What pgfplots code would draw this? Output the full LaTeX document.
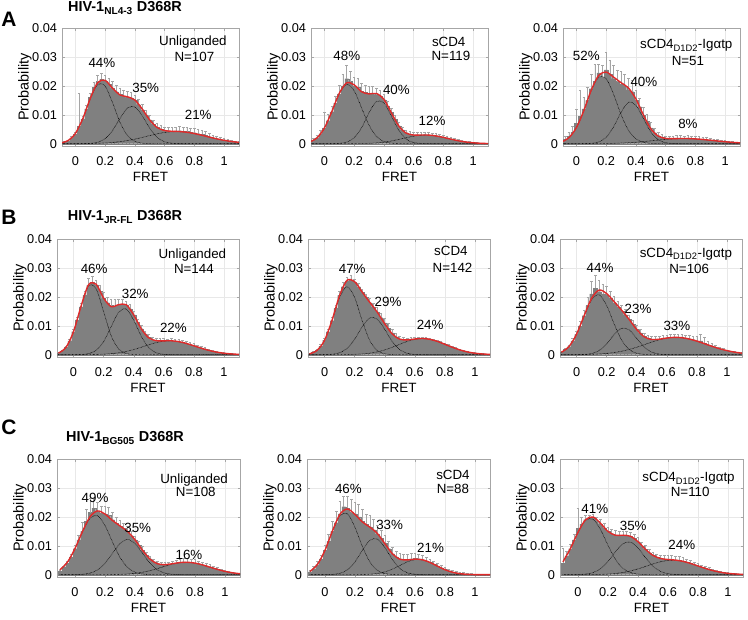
\documentclass[border=0pt]{standalone}
\usepackage{pgfplots}
\pgfplotsset{compat=1.18}
\usepackage{pgfplotstable}
\usepackage{fontspec}
\setmainfont{Liberation Sans}

\definecolor{histfill}{RGB}{128,128,128}
\definecolor{errc}{RGB}{165,165,165}
\definecolor{fitred}{RGB}{224,42,42}

% ---------------- Row A : NL4-3 ----------------
\pgfplotstableread{
x h e
-0.100 0.0002 0.0002
-0.075 0.0005 0.0003
-0.050 0.0010 0.0003
-0.025 0.0020 0.0004
0.000 0.0033 0.0005
0.025 0.0060 0.0115
0.050 0.0085 0.0010
0.075 0.0120 0.0012
0.100 0.0160 0.0015
0.125 0.0195 0.0018
0.150 0.0215 0.0020
0.175 0.0222 0.0022
0.200 0.0218 0.0020
0.225 0.0205 0.0020
0.250 0.0193 0.0022
0.275 0.0180 0.0022
0.300 0.0170 0.0020
0.325 0.0165 0.0020
0.350 0.0160 0.0022
0.375 0.0158 0.0020
0.400 0.0150 0.0018
0.425 0.0135 0.0020
0.450 0.0118 0.0018
0.475 0.0100 0.0016
0.500 0.0082 0.0015
0.525 0.0068 0.0014
0.550 0.0056 0.0013
0.575 0.0050 0.0012
0.600 0.0046 0.0012
0.625 0.0044 0.0012
0.650 0.0043 0.0014
0.675 0.0044 0.0014
0.700 0.0045 0.0015
0.725 0.0042 0.0014
0.750 0.0042 0.0015
0.775 0.0040 0.0015
0.800 0.0038 0.0016
0.825 0.0035 0.0015
0.850 0.0033 0.0014
0.875 0.0030 0.0014
0.900 0.0024 0.0012
0.925 0.0020 0.0010
0.950 0.0017 0.0008
0.975 0.0014 0.0007
1.000 0.0011 0.0006
1.025 0.0009 0.0005
1.050 0.0007 0.0004
1.075 0.0005 0.0003
1.100 0.0004 0.0003
}\hAi
\pgfplotstableread{
x g1 g2 g3 f
-0.10 0.00023 0.00000 0.00000 0.00023
-0.05 0.00106 0.00000 0.00001 0.00107
0.00 0.00353 0.00000 0.00001 0.00354
0.05 0.00863 0.00002 0.00003 0.00868
0.10 0.01550 0.00010 0.00006 0.01566
0.15 0.02050 0.00049 0.00013 0.02112
0.20 0.01990 0.00176 0.00023 0.02189
0.25 0.01415 0.00458 0.00042 0.01915
0.30 0.00740 0.00876 0.00069 0.01685
0.35 0.00284 0.01230 0.00108 0.01622
0.40 0.00080 0.01270 0.00158 0.01508
0.45 0.00017 0.00960 0.00217 0.01194
0.50 0.00003 0.00534 0.00280 0.00817
0.55 0.00000 0.00218 0.00340 0.00558
0.60 0.00000 0.00066 0.00388 0.00454
0.65 0.00000 0.00014 0.00415 0.00429
0.70 0.00000 0.00002 0.00418 0.00420
0.75 0.00000 0.00000 0.00395 0.00395
0.80 0.00000 0.00000 0.00351 0.00351
0.85 0.00000 0.00000 0.00293 0.00293
0.90 0.00000 0.00000 0.00229 0.00229
0.95 0.00000 0.00000 0.00169 0.00169
1.00 0.00000 0.00000 0.00117 0.00117
1.05 0.00000 0.00000 0.00076 0.00076
1.10 0.00000 0.00000 0.00046 0.00046
}\gAi

\pgfplotstableread{
x h e
-0.100 0.0006 0.0004
-0.075 0.0012 0.0005
-0.050 0.0020 0.0008
-0.025 0.0035 0.0010
0.000 0.0055 0.0055
0.025 0.0080 0.0020
0.050 0.0110 0.0020
0.075 0.0140 0.0025
0.100 0.0172 0.0030
0.125 0.0200 0.0040
0.150 0.0225 0.0045
0.175 0.0215 0.0035
0.200 0.0200 0.0030
0.225 0.0195 0.0030
0.250 0.0182 0.0028
0.275 0.0178 0.0025
0.300 0.0172 0.0025
0.325 0.0175 0.0022
0.350 0.0170 0.0022
0.375 0.0165 0.0020
0.400 0.0152 0.0020
0.425 0.0130 0.0018
0.450 0.0108 0.0015
0.475 0.0085 0.0014
0.500 0.0062 0.0012
0.525 0.0048 0.0010
0.550 0.0038 0.0010
0.575 0.0033 0.0009
0.600 0.0030 0.0009
0.625 0.0031 0.0010
0.650 0.0030 0.0010
0.675 0.0031 0.0010
0.700 0.0030 0.0009
0.725 0.0028 0.0009
0.750 0.0027 0.0009
0.775 0.0024 0.0008
0.800 0.0022 0.0008
0.825 0.0019 0.0007
0.850 0.0016 0.0007
0.875 0.0013 0.0006
0.900 0.0010 0.0005
0.925 0.0008 0.0004
0.950 0.0006 0.0003
0.975 0.0004 0.0003
1.000 0.0003 0.0002
1.025 0.0002 0.0002
1.050 0.0002 0.0001
1.075 0.0001 0.0001
1.100 0.0001 0.0001
}\hAii
\pgfplotstableread{
x g1 g2 g3 f
-0.10 0.00056 0.00000 0.00000 0.00056
-0.05 0.00199 0.00000 0.00000 0.00199
0.00 0.00540 0.00000 0.00000 0.00540
0.05 0.01110 0.00001 0.00000 0.01111
0.10 0.01730 0.00010 0.00000 0.01740
0.15 0.02050 0.00053 0.00001 0.02104
0.20 0.01830 0.00203 0.00002 0.02035
0.25 0.01240 0.00550 0.00005 0.01795
0.30 0.00640 0.01070 0.00012 0.01722
0.35 0.00250 0.01460 0.00027 0.01737
0.40 0.00074 0.01410 0.00052 0.01536
0.45 0.00016 0.00960 0.00093 0.01069
0.50 0.00003 0.00465 0.00146 0.00614
0.55 0.00000 0.00159 0.00206 0.00365
0.60 0.00000 0.00039 0.00260 0.00299
0.65 0.00000 0.00007 0.00294 0.00301
0.70 0.00000 0.00001 0.00297 0.00298
0.75 0.00000 0.00000 0.00269 0.00269
0.80 0.00000 0.00000 0.00218 0.00218
0.85 0.00000 0.00000 0.00158 0.00158
0.90 0.00000 0.00000 0.00102 0.00102
0.95 0.00000 0.00000 0.00059 0.00059
1.00 0.00000 0.00000 0.00031 0.00031
1.05 0.00000 0.00000 0.00014 0.00014
1.10 0.00000 0.00000 0.00006 0.00006
}\gAii

\pgfplotstableread{
x h e
-0.100 0.0008 0.0008
-0.075 0.0015 0.0010
-0.050 0.0025 0.0015
-0.025 0.0040 0.0020
0.000 0.0070 0.0050
0.025 0.0095 0.0090
0.050 0.0120 0.0040
0.075 0.0150 0.0045
0.100 0.0190 0.0050
0.125 0.0215 0.0060
0.150 0.0245 0.0030
0.175 0.0230 0.0040
0.200 0.0255 0.0060
0.225 0.0240 0.0050
0.250 0.0225 0.0045
0.275 0.0215 0.0040
0.300 0.0205 0.0045
0.325 0.0200 0.0040
0.350 0.0185 0.0040
0.375 0.0180 0.0040
0.400 0.0150 0.0035
0.425 0.0128 0.0030
0.450 0.0100 0.0025
0.475 0.0078 0.0022
0.500 0.0055 0.0018
0.525 0.0038 0.0015
0.550 0.0028 0.0012
0.575 0.0022 0.0010
0.600 0.0018 0.0008
0.625 0.0017 0.0009
0.650 0.0017 0.0010
0.675 0.0018 0.0010
0.700 0.0019 0.0010
0.725 0.0017 0.0009
0.750 0.0018 0.0010
0.775 0.0017 0.0010
0.800 0.0016 0.0009
0.825 0.0015 0.0010
0.850 0.0014 0.0009
0.875 0.0013 0.0008
0.900 0.0012 0.0007
0.925 0.0010 0.0006
0.950 0.0009 0.0005
0.975 0.0008 0.0004
1.000 0.0007 0.0004
1.025 0.0005 0.0003
1.050 0.0004 0.0003
1.075 0.0003 0.0002
1.100 0.0003 0.0002
}\hAiii
\pgfplotstableread{
x g1 g2 g3 f
-0.10 0.00061 0.00000 0.00000 0.00061
-0.05 0.00209 0.00000 0.00000 0.00209
0.00 0.00555 0.00000 0.00000 0.00555
0.05 0.01140 0.00002 0.00001 0.01143
0.10 0.01840 0.00011 0.00002 0.01853
0.15 0.02300 0.00059 0.00003 0.02362
0.20 0.02250 0.00220 0.00006 0.02476
0.25 0.01710 0.00580 0.00011 0.02301
0.30 0.01010 0.01080 0.00020 0.02110
0.35 0.00465 0.01430 0.00033 0.01928
0.40 0.00167 0.01330 0.00050 0.01547
0.45 0.00047 0.00880 0.00072 0.00999
0.50 0.00010 0.00410 0.00098 0.00518
0.55 0.00002 0.00137 0.00125 0.00264
0.60 0.00000 0.00032 0.00150 0.00182
0.65 0.00000 0.00005 0.00169 0.00174
0.70 0.00000 0.00001 0.00179 0.00180
0.75 0.00000 0.00000 0.00178 0.00178
0.80 0.00000 0.00000 0.00166 0.00166
0.85 0.00000 0.00000 0.00146 0.00146
0.90 0.00000 0.00000 0.00120 0.00120
0.95 0.00000 0.00000 0.00093 0.00093
1.00 0.00000 0.00000 0.00068 0.00068
1.05 0.00000 0.00000 0.00046 0.00046
1.10 0.00000 0.00000 0.00030 0.00030
}\gAiii

% ---------------- Row B : JR-FL ----------------
\pgfplotstableread{
x h e
-0.100 0.0005 0.0002
-0.075 0.0012 0.0003
-0.050 0.0025 0.0004
-0.025 0.0048 0.0006
0.000 0.0080 0.0008
0.025 0.0120 0.0010
0.050 0.0165 0.0012
0.075 0.0205 0.0015
0.100 0.0240 0.0025
0.125 0.0250 0.0020
0.150 0.0240 0.0018
0.175 0.0220 0.0020
0.200 0.0195 0.0022
0.225 0.0180 0.0020
0.250 0.0170 0.0022
0.275 0.0168 0.0022
0.300 0.0172 0.0018
0.325 0.0175 0.0018
0.350 0.0170 0.0015
0.375 0.0158 0.0015
0.400 0.0138 0.0013
0.425 0.0112 0.0012
0.450 0.0090 0.0012
0.475 0.0072 0.0010
0.500 0.0060 0.0010
0.525 0.0052 0.0009
0.550 0.0049 0.0009
0.575 0.0048 0.0008
0.600 0.0048 0.0008
0.625 0.0047 0.0008
0.650 0.0048 0.0008
0.675 0.0046 0.0008
0.700 0.0044 0.0008
0.725 0.0042 0.0007
0.750 0.0038 0.0007
0.775 0.0035 0.0007
0.800 0.0031 0.0007
0.825 0.0027 0.0006
0.850 0.0023 0.0006
0.875 0.0019 0.0005
0.900 0.0015 0.0004
0.925 0.0012 0.0004
0.950 0.0009 0.0003
0.975 0.0007 0.0003
1.000 0.0005 0.0002
1.025 0.0004 0.0002
1.050 0.0003 0.0001
1.075 0.0002 0.0001
1.100 0.0001 0.0001
}\hBi
\pgfplotstableread{
x g1 g2 g3 f
-0.10 0.00056 0.00000 0.00000 0.00056
-0.05 0.00254 0.00000 0.00000 0.00254
0.00 0.00797 0.00001 0.00000 0.00798
0.05 0.01670 0.00006 0.00001 0.01677
0.10 0.02380 0.00035 0.00003 0.02418
0.15 0.02280 0.00150 0.00008 0.02438
0.20 0.01486 0.00453 0.00017 0.01956
0.25 0.00655 0.00970 0.00035 0.01660
0.30 0.00195 0.01469 0.00065 0.01729
0.35 0.00040 0.01578 0.00112 0.01730
0.40 0.00005 0.01195 0.00177 0.01377
0.45 0.00000 0.00640 0.00257 0.00897
0.50 0.00000 0.00243 0.00342 0.00585
0.55 0.00000 0.00066 0.00417 0.00483
0.60 0.00000 0.00012 0.00467 0.00479
0.65 0.00000 0.00002 0.00479 0.00481
0.70 0.00000 0.00000 0.00451 0.00451
0.75 0.00000 0.00000 0.00389 0.00389
0.80 0.00000 0.00000 0.00308 0.00308
0.85 0.00000 0.00000 0.00224 0.00224
0.90 0.00000 0.00000 0.00149 0.00149
0.95 0.00000 0.00000 0.00091 0.00091
1.00 0.00000 0.00000 0.00051 0.00051
1.05 0.00000 0.00000 0.00026 0.00026
1.10 0.00000 0.00000 0.00012 0.00012
}\gBi

\pgfplotstableread{
x h e
-0.100 0.0003 0.0002
-0.075 0.0008 0.0003
-0.050 0.0015 0.0004
-0.025 0.0030 0.0005
0.000 0.0050 0.0006
0.025 0.0080 0.0008
0.050 0.0118 0.0010
0.075 0.0160 0.0012
0.100 0.0205 0.0014
0.125 0.0235 0.0015
0.150 0.0255 0.0012
0.175 0.0258 0.0015
0.200 0.0250 0.0012
0.225 0.0235 0.0012
0.250 0.0215 0.0012
0.275 0.0198 0.0012
0.300 0.0180 0.0014
0.325 0.0165 0.0014
0.350 0.0148 0.0015
0.375 0.0128 0.0015
0.400 0.0110 0.0015
0.425 0.0092 0.0015
0.450 0.0075 0.0014
0.475 0.0062 0.0012
0.500 0.0055 0.0010
0.525 0.0052 0.0008
0.550 0.0051 0.0007
0.575 0.0053 0.0007
0.600 0.0054 0.0007
0.625 0.0055 0.0006
0.650 0.0055 0.0006
0.675 0.0054 0.0006
0.700 0.0052 0.0006
0.725 0.0049 0.0006
0.750 0.0046 0.0005
0.775 0.0041 0.0005
0.800 0.0036 0.0005
0.825 0.0031 0.0005
0.850 0.0026 0.0004
0.875 0.0021 0.0004
0.900 0.0016 0.0003
0.925 0.0013 0.0003
0.950 0.0010 0.0003
0.975 0.0007 0.0002
1.000 0.0005 0.0002
1.025 0.0004 0.0002
1.050 0.0003 0.0001
1.075 0.0002 0.0001
1.100 0.0001 0.0001
}\hBii
\pgfplotstableread{
x g1 g2 g3 f
-0.10 0.00030 0.00000 0.00000 0.00030
-0.05 0.00147 0.00000 0.00000 0.00147
0.00 0.00495 0.00002 0.00000 0.00497
0.05 0.01180 0.00014 0.00000 0.01194
0.10 0.01980 0.00066 0.00001 0.02047
0.15 0.02350 0.00218 0.00004 0.02572
0.20 0.01980 0.00534 0.00011 0.02525
0.25 0.01180 0.00960 0.00025 0.02165
0.30 0.00495 0.01270 0.00051 0.01816
0.35 0.00147 0.01230 0.00096 0.01473
0.40 0.00030 0.00876 0.00165 0.01071
0.45 0.00004 0.00458 0.00256 0.00718
0.50 0.00000 0.00176 0.00361 0.00537
0.55 0.00000 0.00049 0.00461 0.00510
0.60 0.00000 0.00010 0.00533 0.00543
0.65 0.00000 0.00001 0.00560 0.00561
0.70 0.00000 0.00000 0.00533 0.00533
0.75 0.00000 0.00000 0.00461 0.00461
0.80 0.00000 0.00000 0.00361 0.00361
0.85 0.00000 0.00000 0.00256 0.00256
0.90 0.00000 0.00000 0.00165 0.00165
0.95 0.00000 0.00000 0.00096 0.00096
1.00 0.00000 0.00000 0.00051 0.00051
1.05 0.00000 0.00000 0.00025 0.00025
1.10 0.00000 0.00000 0.00011 0.00011
}\gBii

\pgfplotstableread{
x h e
-0.100 0.0008 0.0003
-0.075 0.0018 0.0004
-0.050 0.0028 0.0006
-0.025 0.0048 0.0008
0.000 0.0070 0.0010
0.025 0.0100 0.0015
0.050 0.0135 0.0020
0.075 0.0170 0.0030
0.100 0.0210 0.0045
0.125 0.0230 0.0045
0.150 0.0218 0.0040
0.175 0.0210 0.0035
0.200 0.0205 0.0030
0.225 0.0195 0.0025
0.250 0.0180 0.0022
0.275 0.0165 0.0020
0.300 0.0150 0.0020
0.325 0.0138 0.0018
0.350 0.0122 0.0015
0.375 0.0105 0.0014
0.400 0.0088 0.0012
0.425 0.0075 0.0012
0.450 0.0064 0.0010
0.475 0.0057 0.0010
0.500 0.0053 0.0010
0.525 0.0053 0.0010
0.550 0.0054 0.0010
0.575 0.0056 0.0010
0.600 0.0057 0.0010
0.625 0.0058 0.0012
0.650 0.0060 0.0012
0.675 0.0059 0.0012
0.700 0.0058 0.0012
0.725 0.0056 0.0012
0.750 0.0055 0.0012
0.775 0.0052 0.0012
0.800 0.0048 0.0014
0.825 0.0048 0.0022
0.850 0.0040 0.0020
0.875 0.0034 0.0012
0.900 0.0028 0.0010
0.925 0.0024 0.0008
0.950 0.0020 0.0006
0.975 0.0016 0.0005
1.000 0.0013 0.0004
1.025 0.0010 0.0003
1.050 0.0008 0.0003
1.075 0.0006 0.0002
1.100 0.0005 0.0002
}\hBiii
\pgfplotstableread{
x g1 g2 g3 f
-0.10 0.00085 0.00000 0.00001 0.00086
-0.05 0.00281 0.00000 0.00001 0.00282
0.00 0.00703 0.00000 0.00003 0.00706
0.05 0.01330 0.00007 0.00006 0.01343
0.10 0.01900 0.00038 0.00012 0.01950
0.15 0.02070 0.00141 0.00023 0.02234
0.20 0.01700 0.00372 0.00043 0.02115
0.25 0.01065 0.00694 0.00073 0.01832
0.30 0.00503 0.00916 0.00119 0.01538
0.35 0.00181 0.00855 0.00181 0.01217
0.40 0.00049 0.00564 0.00258 0.00871
0.45 0.00010 0.00263 0.00346 0.00619
0.50 0.00002 0.00087 0.00436 0.00525
0.55 0.00000 0.00020 0.00516 0.00536
0.60 0.00000 0.00003 0.00574 0.00577
0.65 0.00000 0.00000 0.00600 0.00600
0.70 0.00000 0.00000 0.00588 0.00588
0.75 0.00000 0.00000 0.00542 0.00542
0.80 0.00000 0.00000 0.00470 0.00470
0.85 0.00000 0.00000 0.00382 0.00382
0.90 0.00000 0.00000 0.00292 0.00292
0.95 0.00000 0.00000 0.00209 0.00209
1.00 0.00000 0.00000 0.00142 0.00142
1.05 0.00000 0.00000 0.00089 0.00089
1.10 0.00000 0.00000 0.00053 0.00053
}\gBiii

% ---------------- Row C : BG505 ----------------
\pgfplotstableread{
x h e
-0.100 0.0012 0.0004
-0.075 0.0025 0.0005
-0.050 0.0040 0.0006
-0.025 0.0062 0.0008
0.000 0.0090 0.0012
0.025 0.0120 0.0018
0.050 0.0150 0.0030
0.075 0.0185 0.0040
0.100 0.0215 0.0050
0.125 0.0230 0.0035
0.150 0.0220 0.0030
0.175 0.0212 0.0025
0.200 0.0210 0.0025
0.225 0.0205 0.0028
0.250 0.0190 0.0025
0.275 0.0178 0.0022
0.300 0.0168 0.0020
0.325 0.0160 0.0018
0.350 0.0150 0.0016
0.375 0.0135 0.0015
0.400 0.0120 0.0014
0.425 0.0102 0.0013
0.450 0.0085 0.0012
0.475 0.0068 0.0010
0.500 0.0055 0.0010
0.525 0.0045 0.0009
0.550 0.0038 0.0008
0.575 0.0035 0.0008
0.600 0.0035 0.0008
0.625 0.0036 0.0008
0.650 0.0038 0.0009
0.675 0.0040 0.0010
0.700 0.0042 0.0012
0.725 0.0044 0.0012
0.750 0.0043 0.0013
0.775 0.0042 0.0012
0.800 0.0040 0.0012
0.825 0.0037 0.0011
0.850 0.0034 0.0010
0.875 0.0030 0.0010
0.900 0.0026 0.0009
0.925 0.0022 0.0008
0.950 0.0018 0.0006
0.975 0.0014 0.0005
1.000 0.0011 0.0004
1.025 0.0008 0.0003
1.050 0.0006 0.0003
1.075 0.0004 0.0002
1.100 0.0003 0.0002
}\hCi
\pgfplotstableread{
x g1 g2 g3 f
-0.10 0.00169 0.00000 0.00000 0.00169
-0.05 0.00437 0.00000 0.00000 0.00437
0.00 0.00902 0.00003 0.00000 0.00905
0.05 0.01480 0.00014 0.00000 0.01494
0.10 0.01950 0.00054 0.00000 0.02004
0.15 0.02040 0.00165 0.00000 0.02205
0.20 0.01700 0.00396 0.00001 0.02097
0.25 0.01130 0.00740 0.00004 0.01874
0.30 0.00600 0.01077 0.00010 0.01687
0.35 0.00253 0.01220 0.00022 0.01495
0.40 0.00085 0.01077 0.00045 0.01207
0.45 0.00023 0.00740 0.00083 0.00846
0.50 0.00005 0.00396 0.00140 0.00541
0.55 0.00001 0.00165 0.00212 0.00378
0.60 0.00000 0.00054 0.00293 0.00347
0.65 0.00000 0.00014 0.00367 0.00380
0.70 0.00000 0.00003 0.00417 0.00420
0.75 0.00000 0.00000 0.00429 0.00429
0.80 0.00000 0.00000 0.00401 0.00401
0.85 0.00000 0.00000 0.00340 0.00340
0.90 0.00000 0.00000 0.00261 0.00261
0.95 0.00000 0.00000 0.00182 0.00182
1.00 0.00000 0.00000 0.00115 0.00115
1.05 0.00000 0.00000 0.00066 0.00066
1.10 0.00000 0.00000 0.00034 0.00034
}\gCi

\pgfplotstableread{
x h e
-0.100 0.0010 0.0005
-0.075 0.0020 0.0008
-0.050 0.0035 0.0010
-0.025 0.0055 0.0012
0.000 0.0085 0.0015
0.025 0.0115 0.0025
0.050 0.0150 0.0035
0.075 0.0180 0.0040
0.100 0.0210 0.0045
0.125 0.0235 0.0035
0.150 0.0230 0.0040
0.175 0.0215 0.0045
0.200 0.0210 0.0040
0.225 0.0200 0.0045
0.250 0.0185 0.0040
0.275 0.0175 0.0035
0.300 0.0165 0.0040
0.325 0.0155 0.0035
0.350 0.0140 0.0030
0.375 0.0125 0.0030
0.400 0.0108 0.0028
0.425 0.0090 0.0025
0.450 0.0073 0.0022
0.475 0.0062 0.0020
0.500 0.0055 0.0020
0.525 0.0052 0.0018
0.550 0.0052 0.0018
0.575 0.0055 0.0020
0.600 0.0056 0.0018
0.625 0.0055 0.0016
0.650 0.0052 0.0014
0.675 0.0048 0.0012
0.700 0.0042 0.0012
0.725 0.0036 0.0010
0.750 0.0030 0.0010
0.775 0.0024 0.0008
0.800 0.0018 0.0008
0.825 0.0014 0.0006
0.850 0.0010 0.0006
0.875 0.0007 0.0005
0.900 0.0005 0.0005
0.925 0.0003 0.0004
0.950 0.0002 0.0003
0.975 0.00015 0.0002
1.000 0.0001 0.0001
1.025 0.00005 0.0001
1.050 0.00003 0.00005
1.075 0.00002 0.00005
1.100 0.00001 0.00005
}\hCii
\pgfplotstableread{
x g1 g2 g3 f
-0.10 0.00114 0.00000 0.00000 0.00114
-0.05 0.00357 0.00000 0.00000 0.00357
0.00 0.00843 0.00001 0.00000 0.00844
0.05 0.01507 0.00010 0.00000 0.01517
0.10 0.02045 0.00048 0.00000 0.02093
0.15 0.02103 0.00170 0.00000 0.02273
0.20 0.01636 0.00444 0.00001 0.02081
0.25 0.00967 0.00849 0.00005 0.01821
0.30 0.00434 0.01192 0.00015 0.01641
0.35 0.00147 0.01230 0.00042 0.01419
0.40 0.00038 0.00931 0.00099 0.01068
0.45 0.00007 0.00518 0.00195 0.00720
0.50 0.00001 0.00212 0.00321 0.00534
0.55 0.00000 0.00063 0.00447 0.00510
0.60 0.00000 0.00014 0.00523 0.00537
0.65 0.00000 0.00002 0.00514 0.00516
0.70 0.00000 0.00000 0.00424 0.00424
0.75 0.00000 0.00000 0.00295 0.00295
0.80 0.00000 0.00000 0.00172 0.00172
0.85 0.00000 0.00000 0.00085 0.00085
0.90 0.00000 0.00000 0.00035 0.00035
0.95 0.00000 0.00000 0.00012 0.00012
1.00 0.00000 0.00000 0.00004 0.00004
1.05 0.00000 0.00000 0.00001 0.00001
1.10 0.00000 0.00000 0.00000 0.00000
}\gCii

\pgfplotstableread{
x h e
-0.100 0.0040 0.0050
-0.075 0.0065 0.0015
-0.050 0.0090 0.0015
-0.025 0.0120 0.0020
0.000 0.0160 0.0070
0.025 0.0175 0.0025
0.050 0.0190 0.0015
0.075 0.0195 0.0012
0.100 0.0195 0.0015
0.125 0.0185 0.0015
0.150 0.0175 0.0015
0.175 0.0162 0.0015
0.200 0.0150 0.0015
0.225 0.0142 0.0015
0.250 0.0138 0.0014
0.275 0.0135 0.0014
0.300 0.0136 0.0014
0.325 0.0135 0.0015
0.350 0.0133 0.0015
0.375 0.0125 0.0014
0.400 0.0114 0.0014
0.425 0.0100 0.0013
0.450 0.0088 0.0013
0.475 0.0076 0.0013
0.500 0.0067 0.0012
0.525 0.0060 0.0012
0.550 0.0056 0.0012
0.575 0.0054 0.0012
0.600 0.0053 0.0013
0.625 0.0052 0.0014
0.650 0.0051 0.0014
0.675 0.0049 0.0014
0.700 0.0046 0.0013
0.725 0.0043 0.0012
0.750 0.0039 0.0010
0.775 0.0035 0.0009
0.800 0.0030 0.0008
0.825 0.0026 0.0007
0.850 0.0022 0.0007
0.875 0.0018 0.0006
0.900 0.0014 0.0005
0.925 0.0011 0.0004
0.950 0.0009 0.0003
0.975 0.0007 0.0003
1.000 0.0005 0.0002
1.025 0.0004 0.0002
1.050 0.0003 0.0001
1.075 0.0002 0.0001
1.100 0.0001 0.0001
}\hCiii
\pgfplotstableread{
x g1 g2 g3 f
-0.10 0.00449 0.00000 0.00000 0.00449
-0.05 0.00909 0.00001 0.00000 0.00910
0.00 0.01462 0.00004 0.00001 0.01467
0.05 0.01877 0.00020 0.00002 0.01899
0.10 0.01919 0.00072 0.00004 0.01995
0.15 0.01564 0.00206 0.00009 0.01779
0.20 0.01016 0.00458 0.00020 0.01494
0.25 0.00528 0.00795 0.00041 0.01364
0.30 0.00217 0.01073 0.00076 0.01366
0.35 0.00072 0.01127 0.00129 0.01328
0.40 0.00018 0.00923 0.00200 0.01141
0.45 0.00004 0.00588 0.00285 0.00877
0.50 0.00001 0.00293 0.00373 0.00667
0.55 0.00000 0.00113 0.00448 0.00561
0.60 0.00000 0.00034 0.00492 0.00526
0.65 0.00000 0.00008 0.00497 0.00505
0.70 0.00000 0.00002 0.00460 0.00462
0.75 0.00000 0.00000 0.00390 0.00390
0.80 0.00000 0.00000 0.00303 0.00303
0.85 0.00000 0.00000 0.00216 0.00216
0.90 0.00000 0.00000 0.00141 0.00141
0.95 0.00000 0.00000 0.00085 0.00085
1.00 0.00000 0.00000 0.00047 0.00047
1.05 0.00000 0.00000 0.00024 0.00024
1.10 0.00000 0.00000 0.00011 0.00011
}\gCiii

\pgfplotsset{
  fret/.style={
    scale only axis, height=118bp, anchor=south west,
    ymin=-0.0008, ymax=0.04, xmax=1.1,
    scaled y ticks=false, scaled x ticks=false,
    xtick={0,0.2,0.4,0.6,0.8,1}, xticklabels={0,0.2,0.4,0.6,0.8,1},
    ytick={0,0.01,0.02,0.03,0.04}, yticklabels={0,0.01,0.02,0.03,0.04},
    grid=major, major grid style={draw=gray!18, line width=0.4pt},
    axis line style={draw=gray!70, line width=0.5pt},
    tick style={draw=gray!70, line width=0.4pt}, major tick length=2.5bp,
    tick align=inside,
    ticklabel style={font=\fontsize{12.8}{13}\selectfont},
    xticklabel style={yshift=-7.5bp},
    yticklabel style={xshift=-1.5bp},
    xlabel={FRET}, ylabel={Probability},
    every axis x label/.style={at={(axis description cs:0.5,0)}, anchor=center, yshift=-31bp, font=\fontsize{13.5}{14}\selectfont},
    every axis y label/.style={at={(axis description cs:0,0.5)}, anchor=center, rotate=90, yshift=37bp, font=\fontsize{14.5}{15}\selectfont},
  },
}
\tikzset{lab/.style={font=\fontsize{13.4}{14}\selectfont, inner sep=0pt}}

\newcommand\panel[2]{%
  \addplot[ybar, bar width=0.025, bar shift=0pt, fill=histfill, draw=histfill, line width=0.1pt,
    error bars/.cd, y dir=plus, y explicit,
    error bar style={errc, line width=0.55pt},
    error mark options={errc, rotate=90, mark size=1.3bp, line width=0.55pt}]
    table[x=x, y=h, y error=e]{#1};
  \addplot[black, line width=0.8pt, line cap=round, dash pattern=on 0pt off 1.4pt, smooth] table[x=x, y=g1]{#2};
  \addplot[black, line width=0.8pt, line cap=round, dash pattern=on 0pt off 1.4pt, smooth] table[x=x, y=g2]{#2};
  \addplot[black, line width=0.8pt, line cap=round, dash pattern=on 0pt off 1.4pt, smooth] table[x=x, y=g3]{#2};
  \addplot[fitred, line width=1.4pt, smooth] table[x=x, y=f]{#2};
}

\begin{document}
\begin{tikzpicture}
\path[use as bounding box] (0,0) rectangle (748bp,-620bp);

% panel letters and row titles
\node[font=\fontsize{21}{21}\selectfont\bfseries] at (9bp,-19bp) {A};
\node[font=\fontsize{21}{21}\selectfont\bfseries] at (9bp,-217bp) {B};
\node[font=\fontsize{21}{21}\selectfont\bfseries] at (9bp,-427bp) {C};
\node[font=\fontsize{14.5}{15}\selectfont\bfseries] at (125bp,-8bp) {HIV-1\textsubscript{NL4-3} D368R};
\node[font=\fontsize{14.5}{15}\selectfont\bfseries] at (125bp,-217bp) {HIV-1\textsubscript{JR-FL} D368R};
\node[font=\fontsize{14.5}{15}\selectfont\bfseries] at (125bp,-438bp) {HIV-1\textsubscript{BG505} D368R};

% ---------- Row A ----------
\begin{axis}[fret, at={(62bp,-146bp)}, width=177bp, xmin=-0.09]
\panel{\hAi}{\gAi}
\node[lab] at (axis cs:0.79,0.0350) {Unliganded};
\node[lab] at (axis cs:0.80,0.0299) {N=107};
\node[lab] at (axis cs:0.178,0.0281) {44\%};
\node[lab] at (axis cs:0.473,0.0192) {35\%};
\node[lab] at (axis cs:0.826,0.0098) {21\%};
\end{axis}

\begin{axis}[fret, at={(311bp,-146bp)}, width=177bp, xmin=-0.09]
\panel{\hAii}{\gAii}
\node[lab] at (axis cs:0.836,0.0351) {sCD4};
\node[lab] at (axis cs:0.851,0.0305) {N=119};
\node[lab] at (axis cs:0.151,0.0305) {48\%};
\node[lab] at (axis cs:0.484,0.0186) {40\%};
\node[lab] at (axis cs:0.724,0.0078) {12\%};
\end{axis}

\begin{axis}[fret, at={(563bp,-146bp)}, width=177bp, xmin=-0.09]
\panel{\hAiii}{\gAiii}
\node[lab] at (axis cs:0.739,0.0339) {sCD4\textsubscript{D1D2}-Igαtp};
\node[lab] at (axis cs:0.75,0.0287) {N=51};
\node[lab] at (axis cs:0.067,0.0305) {52\%};
\node[lab] at (axis cs:0.454,0.0213) {40\%};
\node[lab] at (axis cs:0.75,0.0069) {8\%};
\end{axis}

% ---------- Row B ----------
\begin{axis}[fret, at={(57bp,-357bp)}, width=182bp, xmin=-0.11]
\panel{\hBi}{\gBi}
\node[lab] at (axis cs:0.79,0.0346) {Unliganded};
\node[lab] at (axis cs:0.80,0.0295) {N=144};
\node[lab] at (axis cs:0.137,0.0297) {46\%};
\node[lab] at (axis cs:0.41,0.0209) {32\%};
\node[lab] at (axis cs:0.664,0.0094) {22\%};
\end{axis}

\begin{axis}[fret, at={(308bp,-357bp)}, width=182bp, xmin=-0.11]
\panel{\hBii}{\gBii}
\node[lab] at (axis cs:0.84,0.0359) {sCD4};
\node[lab] at (axis cs:0.851,0.0300) {N=142};
\node[lab] at (axis cs:0.184,0.0295) {47\%};
\node[lab] at (axis cs:0.422,0.0184) {29\%};
\node[lab] at (axis cs:0.702,0.0102) {24\%};
\end{axis}

\begin{axis}[fret, at={(560bp,-357bp)}, width=182bp, xmin=-0.11]
\panel{\hBiii}{\gBiii}
\node[lab] at (axis cs:0.727,0.0348) {sCD4\textsubscript{D1D2}-Igαtp};
\node[lab] at (axis cs:0.749,0.0296) {N=106};
\node[lab] at (axis cs:0.156,0.0301) {44\%};
\node[lab] at (axis cs:0.409,0.0157) {23\%};
\node[lab] at (axis cs:0.667,0.0101) {33\%};
\end{axis}

% ---------- Row C ----------
\begin{axis}[fret, at={(57bp,-577bp)}, width=183bp, xmin=-0.12]
\panel{\hCi}{\gCi}
\node[lab] at (axis cs:0.794,0.0328) {Unliganded};
\node[lab] at (axis cs:0.805,0.0287) {N=108};
\node[lab] at (axis cs:0.134,0.0267) {49\%};
\node[lab] at (axis cs:0.418,0.0163) {35\%};
\node[lab] at (axis cs:0.76,0.0070) {16\%};
\end{axis}

\begin{axis}[fret, at={(307bp,-577bp)}, width=183bp, xmin=-0.12]
\panel{\hCii}{\gCii}
\node[lab] at (axis cs:0.853,0.0346) {sCD4};
\node[lab] at (axis cs:0.853,0.0296) {N=88};
\node[lab] at (axis cs:0.156,0.0296) {46\%};
\node[lab] at (axis cs:0.431,0.0173) {33\%};
\node[lab] at (axis cs:0.704,0.0091) {21\%};
\end{axis}

\begin{axis}[fret, at={(560bp,-577bp)}, width=183bp, xmin=-0.12]
\panel{\hCiii}{\gCiii}
\node[lab] at (axis cs:0.737,0.0332) {sCD4\textsubscript{D1D2}-Igαtp};
\node[lab] at (axis cs:0.748,0.0287) {N=110};
\node[lab] at (axis cs:0.112,0.0226) {41\%};
\node[lab] at (axis cs:0.368,0.0167) {35\%};
\node[lab] at (axis cs:0.692,0.0102) {24\%};
\end{axis}
\end{tikzpicture}
\end{document}
